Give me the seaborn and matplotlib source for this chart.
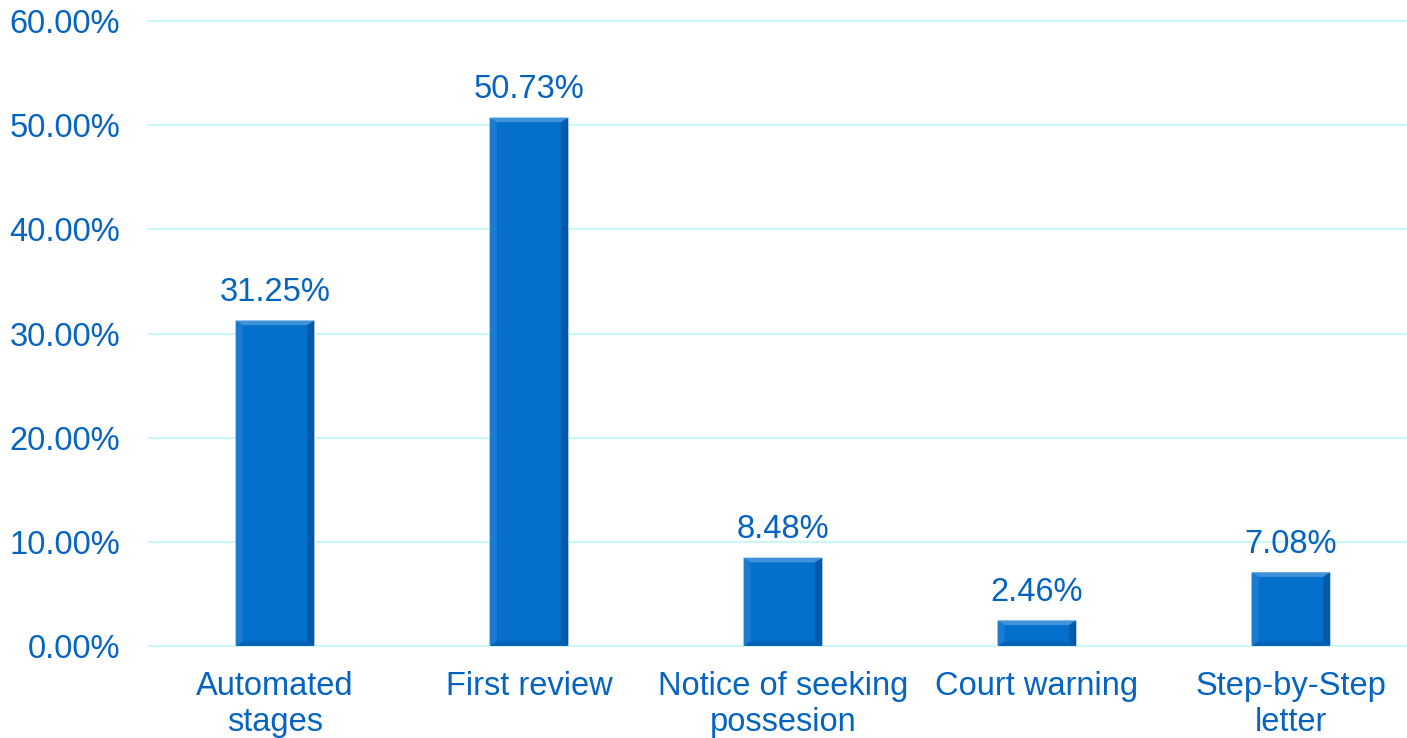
import matplotlib
matplotlib.use("Agg")
import matplotlib.pyplot as plt
from matplotlib.patches import Polygon
from matplotlib.ticker import PercentFormatter
import seaborn as sns
import pandas as pd

# data
categories = ["Automated\nstages", "First review", "Notice of seeking\npossesion",
              "Court warning", "Step-by-Step\nletter"]
shares = [0.3125, 0.5073, 0.0848, 0.0246, 0.0708]
labels = ["31.25%", "50.73%", "8.48%", "2.46%", "7.08%"]

df = pd.DataFrame({"stage": categories, "share": shares})

sns.set_style("white")
plt.rcParams["font.family"] = ["Liberation Sans", "DejaVu Sans"]

text_blue = "#0563C1"
bar_blue = "#0570CC"
fs = 23.5

fig = plt.figure(figsize=(14.07, 7.38), dpi=100)
ax = fig.add_axes([148 / 1407, 92 / 738, 1 - 148 / 1407, (646 - 21) / 738])

sns.barplot(data=df, x="stage", y="share", color=bar_blue, saturation=1,
            width=0.31, ax=ax, zorder=3)

# bevel look: lighter top/left edges, darker bottom/right edges
for p in ax.patches:
    x0, y0 = p.get_x(), p.get_y()
    w, h = p.get_width(), p.get_height()
    bx = 0.028
    by = min(0.0045, h / 4)
    x1, y1 = x0 + w, y0 + h
    ax.add_patch(Polygon([(x0, y1), (x1, y1), (x1 - bx, y1 - by), (x0 + bx, y1 - by)],
                         closed=True, color="#3F93DA", lw=0, zorder=4))
    ax.add_patch(Polygon([(x0, y0), (x0, y1), (x0 + bx, y1 - by), (x0 + bx, y0 + by)],
                         closed=True, color="#1A7BD2", lw=0, zorder=4))
    ax.add_patch(Polygon([(x1, y0), (x1, y1), (x1 - bx, y1 - by), (x1 - bx, y0 + by)],
                         closed=True, color="#0359A6", lw=0, zorder=4))
    ax.add_patch(Polygon([(x0, y0), (x1, y0), (x1 - bx, y0 + by), (x0 + bx, y0 + by)],
                         closed=True, color="#0462B5", lw=0, zorder=4))

for i, (v, lab) in enumerate(zip(shares, labels)):
    ax.annotate(lab, (i, v), xytext=(0, 9), textcoords="offset points",
                ha="center", va="bottom", color=text_blue, fontsize=fs)

ax.set_ylim(0, 0.6)
ax.set_xlim(-0.5, 4.457)
ax.set_yticks([0, 0.1, 0.2, 0.3, 0.4, 0.5, 0.6])
ax.yaxis.set_major_formatter(PercentFormatter(1.0, decimals=2))
ax.grid(axis="y", color="#CCF7F7", linewidth=1.5, zorder=0)
for gl in ax.get_ygridlines():
    gl.set_clip_on(False)
ax.set_axisbelow(True)
ax.tick_params(axis="both", length=0, labelsize=fs, labelcolor=text_blue)
ax.tick_params(axis="y", pad=20)
ax.tick_params(axis="x", pad=18)
ax.set_xlabel("")
ax.set_ylabel("")
sns.despine(ax=ax, left=True, bottom=True, top=True, right=True)

fig.savefig("out.png", dpi=100)
